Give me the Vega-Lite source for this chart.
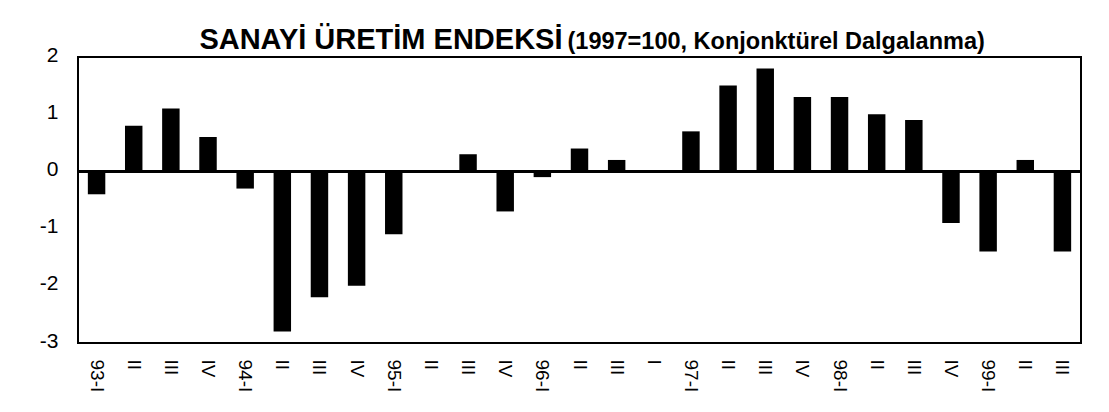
{
  "$schema": "https://vega.github.io/schema/vega-lite/v6.json",
  "width": 1003,
  "height": 286,
  "autosize": {"type": "none"},
  "padding": {"left": 78, "top": 57, "right": 28, "bottom": 69},
  "background": "white",
  "config": {
    "font": "Liberation Sans",
    "view": {"stroke": "#000000", "strokeWidth": 2},
    "axis": {"grid": false, "domain": false, "ticks": false, "tickSize": 0, "title": null, "labelColor": "#000000", "labelFont": "Liberation Sans"}
  },
  "data": {
    "values": [
      {"q": "93-I", "v": -0.4},
      {"q": "93-II", "v": 0.8},
      {"q": "93-III", "v": 1.1},
      {"q": "93-IV", "v": 0.6},
      {"q": "94-I", "v": -0.3},
      {"q": "94-II", "v": -2.8},
      {"q": "94-III", "v": -2.2},
      {"q": "94-IV", "v": -2.0},
      {"q": "95-I", "v": -1.1},
      {"q": "95-II", "v": 0},
      {"q": "95-III", "v": 0.3},
      {"q": "95-IV", "v": -0.7},
      {"q": "96-I", "v": -0.1},
      {"q": "96-II", "v": 0.4},
      {"q": "96-III", "v": 0.2},
      {"q": "96-IV", "v": 0},
      {"q": "97-I", "v": 0.7},
      {"q": "97-II", "v": 1.5},
      {"q": "97-III", "v": 1.8},
      {"q": "97-IV", "v": 1.3},
      {"q": "98-I", "v": 1.3},
      {"q": "98-II", "v": 1.0},
      {"q": "98-III", "v": 0.9},
      {"q": "98-IV", "v": -0.9},
      {"q": "99-I", "v": -1.4},
      {"q": "99-II", "v": 0.2},
      {"q": "99-III", "v": -1.4}
    ]
  },
  "encoding": {
    "x": {
      "field": "q",
      "type": "nominal",
      "sort": null,
      "scale": {"paddingInner": 0.53, "paddingOuter": 0.265},
      "axis": {
        "labelAngle": 90,
        "labelFontSize": 19,
        "labelPadding": 16,
        "labelOverlap": false,
        "labelFlush": false,
        "labelBound": false,
        "labelExpr": "datum.value == '96-IV' ? 'I' : ((indexof(datum.value, '-I') == 2 && length(datum.value) == 4) ? datum.value : split(datum.value, '-')[1])"
      }
    }
  },
  "layer": [
    {
      "mark": {"type": "bar", "color": "#000000"},
      "encoding": {
        "y": {
          "field": "v",
          "type": "quantitative",
          "scale": {"domain": [-3, 2], "nice": false, "zero": true},
          "axis": {"values": [-3, -2, -1, 0, 1, 2], "labelExpr": "'' + datum.value", "labelFontSize": 21, "labelPadding": 20, "labelOffset": -2}
        }
      }
    },
    {
      "mark": {"type": "rule", "color": "#000000", "strokeWidth": 1.5},
      "encoding": {"y": {"datum": 0, "type": "quantitative"}, "x": null}
    },
    {
      "data": {"values": [{"t": "SANAYİ ÜRETİM ENDEKSİ"}]},
      "mark": {"type": "text", "align": "right", "baseline": "alphabetic", "fontSize": 29, "fontWeight": "bold", "dx": -17, "dy": -8, "color": "#000000"},
      "encoding": {"x": {"datum": "96-II", "type": "nominal"}, "y": {"datum": 2, "type": "quantitative"}, "text": {"field": "t"}}
    },
    {
      "data": {"values": [{"t": "(1997=100, Konjonktürel Dalgalanma)"}]},
      "mark": {"type": "text", "align": "left", "baseline": "alphabetic", "fontSize": 23.5, "fontWeight": "bold", "dx": -12, "dy": -8, "color": "#000000"},
      "encoding": {"x": {"datum": "96-II", "type": "nominal"}, "y": {"datum": 2, "type": "quantitative"}, "text": {"field": "t"}}
    }
  ]
}
